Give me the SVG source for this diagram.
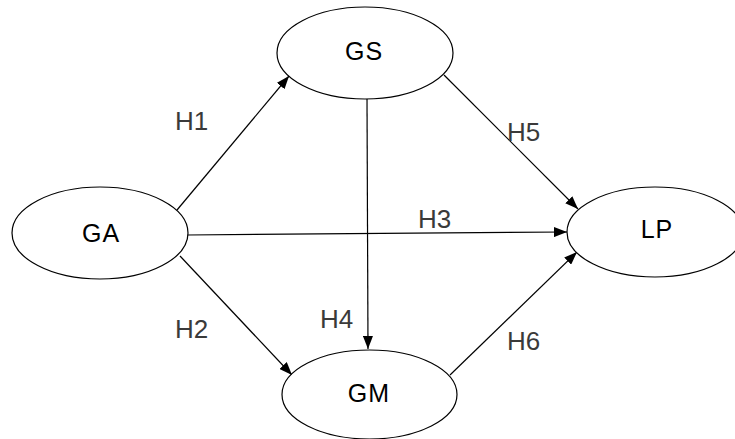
<svg xmlns="http://www.w3.org/2000/svg" width="735" height="439" viewBox="0 0 735 439">
  <defs>
    <marker id="arrow" markerUnits="userSpaceOnUse" markerWidth="14" markerHeight="10" refX="13" refY="5" orient="auto">
      <path d="M0,0 L13,5 L0,10 Z" fill="#000"/>
    </marker>
    <style>
      .node ellipse { fill: #fff; stroke: #000; stroke-width: 1.2; }
      .node text { font-family: "Liberation Sans", Arial, sans-serif; font-size: 25px; letter-spacing: 1px; fill: #000; text-anchor: middle; }
      .edge line { stroke: #000; stroke-width: 1.2; marker-end: url(#arrow); }
      .label { font-family: "Liberation Sans", Arial, sans-serif; font-size: 26px; fill: #3a3a3a; }
    </style>
  </defs>
  <rect width="735" height="439" fill="#fff"/>

  <!-- connectors -->
  <g id="edges" class="edge">
    <line x1="177" y1="210" x2="289" y2="76"/>
    <line x1="180" y1="256" x2="292" y2="375"/>
    <line x1="187" y1="235" x2="567" y2="232"/>
    <line x1="367" y1="99" x2="368" y2="349"/>
    <line x1="444" y1="75" x2="578" y2="209"/>
    <line x1="450" y1="375" x2="577" y2="252"/>
  </g>

  <!-- path labels -->
  <g id="labels">
    <text class="label" x="175" y="130">H1</text>
    <text class="label" x="175" y="338">H2</text>
    <text class="label" x="418" y="228">H3</text>
    <text class="label" x="320" y="328">H4</text>
    <text class="label" x="507" y="141">H5</text>
    <text class="label" x="507" y="350">H6</text>
  </g>

  <!-- constructs -->
  <g id="GS" class="node">
    <ellipse cx="365" cy="53" rx="88" ry="46"/>
    <text x="364" y="60">GS</text>
  </g>
  <g id="GA" class="node">
    <ellipse cx="100" cy="233" rx="88" ry="46"/>
    <text x="101" y="242">GA</text>
  </g>
  <g id="GM" class="node">
    <ellipse cx="369.5" cy="394.5" rx="87.5" ry="44.5"/>
    <text x="369" y="402">GM</text>
  </g>
  <g id="LP" class="node">
    <ellipse cx="655" cy="232" rx="88" ry="45"/>
    <text x="657" y="238">LP</text>
  </g>
</svg>
